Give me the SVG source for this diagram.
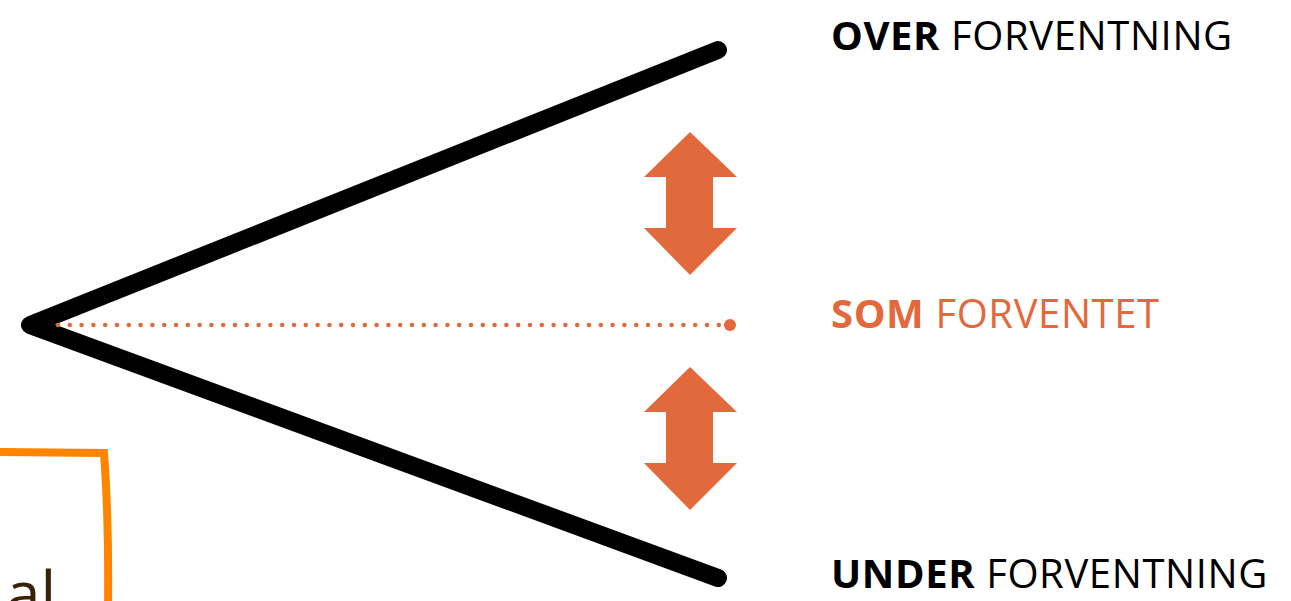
<svg xmlns="http://www.w3.org/2000/svg" width="1291" height="601" viewBox="0 0 1291 601">
<style>
.lbl{font-family:"Open Sans","Liberation Sans",sans-serif;font-size:40px;letter-spacing:0.6px}
.b{font-weight:700}
.arr{fill:#E2693B}
</style>
<rect width="1291" height="601" fill="#fff"/>
<g id="frame">
<path d="M-10 452 L104 453 Q109 520 108 610" fill="none" stroke="#FF8400" stroke-width="8"/>
<text x="6" y="616" font-family="Open Sans, Liberation Sans, sans-serif" font-size="62" fill="#3A2208">al</text>
</g>
<g id="connectors">
<polyline points="718,50 30,325 718,578" fill="none" stroke="#000" stroke-width="18" stroke-linecap="round" stroke-linejoin="round"/>
<line x1="58" y1="325" x2="725" y2="325" stroke="#E2693B" stroke-width="4.5" stroke-linecap="round" stroke-dasharray="0 11.8"/>
<circle cx="730" cy="325" r="6" fill="#E2693B"/>
</g>
<g id="arrow-up">
<polygon class="arr" points="690,132 737,177 713,177 713,228 737,228 690,275 644,228 666,228 666,177 644,177"/>
</g>
<g id="arrow-down">
<polygon class="arr" points="690,367 737,412 713,412 713,463 737,463 690,510 644,463 666,463 666,412 644,412"/>
</g>
<g id="over">
<text class="lbl" x="831" y="50" fill="#000"><tspan class="b">OVER</tspan> FORVENTNING</text>
</g>
<g id="som">
<text class="lbl" x="831" y="328" fill="#E2693B"><tspan class="b">SOM</tspan> FORVENTET</text>
</g>
<g id="under">
<text class="lbl" x="831" y="588" fill="#000"><tspan class="b">UNDER</tspan> FORVENTNING</text>
</g>
</svg>
